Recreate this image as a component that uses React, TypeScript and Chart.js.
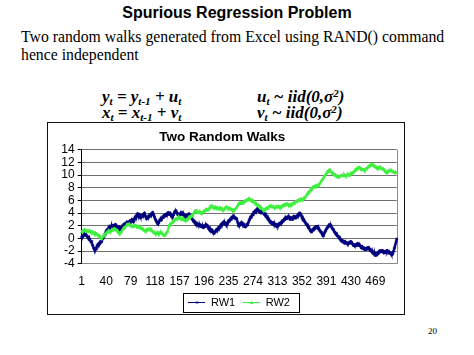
import React, { useEffect, useRef } from "react";
import { Chart, registerables } from "chart.js";

Chart.register(...registerables);

const SANS = '"Liberation Sans", Arial, Helvetica, sans-serif';
const SERIF = '"Liberation Serif", "Times New Roman", Times, serif';

const pointCount = 503;
const categories: string[] = Array.from({ length: pointCount }, (_, i) => String(i + 1));
const xTickLabels = ["1", "40", "79", "118", "157", "196", "235", "274", "313", "352", "391", "430", "469"];
const yTickMin = -4;
const yTickMax = 14;
const yTickStep = 2;

const seriesNames = ["RW1", "RW2"];
const seriesColors = ["#000080", "#40f040"];

const rw1 = [
  0.2, 0.4, 0.3, 0.6, 0.5, 0.7, 0.5, 0.6, 0.4, 0.3,
  0.1, 0.2, -0.2, -0.1, -0.4, -0.6, -0.5, -1.0, -1.2, -1.5,
  -1.7, -1.9, -1.6, -1.7, -1.3, -1.1, -0.9, -1.0, -0.7, -0.8,
  -0.5, -0.6, -0.4, -0.1, 0.0, 0.3, 0.4, 0.7, 0.9, 1.2,
  1.1, 1.4, 1.5, 1.7, 1.5, 1.8, 1.6, 1.9, 2.1, 1.8,
  2.0, 1.8, 2.1, 1.9, 2.2, 2.0, 1.7, 1.9, 1.9, 1.6,
  1.8, 1.5, 1.7, 1.5, 1.8, 2.0, 1.9, 2.2, 2.3, 2.1,
  2.4, 2.2, 2.5, 2.3, 2.6, 2.4, 2.6, 2.8, 2.5, 2.7,
  2.9, 2.7, 3.0, 2.8, 3.1, 3.4, 3.3, 3.6, 3.5, 3.9,
  3.7, 3.5, 3.8, 3.6, 3.3, 3.4, 3.6, 3.5, 3.8, 3.7,
  4.0, 3.7, 3.4, 3.1, 3.3, 3.2, 3.5, 3.4, 3.7, 3.5,
  3.8, 3.9, 3.8, 4.1, 3.9, 3.6, 3.4, 3.1, 2.9, 2.7,
  2.5, 2.3, 2.6, 2.5, 2.8, 3.0, 3.1, 2.9, 3.2, 3.4,
  3.3, 3.6, 3.7, 3.5, 3.8, 3.7, 3.9, 3.8, 4.1, 4.0,
  3.8, 4.0, 3.7, 3.5, 3.6, 3.4, 3.7, 3.9, 4.2, 4.1,
  4.4, 4.2, 4.0, 3.8, 3.9, 3.6, 3.8, 3.7, 4.0, 3.8,
  4.1, 3.9, 3.7, 3.8, 3.5, 3.6, 3.4, 3.6, 3.7, 3.5,
  3.8, 3.9, 3.7, 3.5, 3.4, 3.2, 3.1, 2.9, 2.7, 2.8,
  2.5, 2.6, 2.3, 2.2, 2.4, 2.1, 2.2, 2.0, 2.2, 1.9,
  2.1, 2.0, 1.8, 2.0, 1.7, 1.8, 2.0, 1.9, 2.2, 2.0,
  2.1, 1.8, 1.6, 1.7, 1.4, 1.2, 1.4, 1.1, 1.3, 1.0,
  0.9, 0.8, 1.0, 1.1, 1.3, 1.2, 1.5, 1.4, 1.7, 1.8,
  1.7, 2.0, 2.2, 2.1, 2.4, 2.3, 2.6, 2.4, 2.5, 2.2,
  2.4, 2.1, 2.3, 2.5, 2.8, 2.7, 2.9, 3.1, 3.0, 3.3,
  3.2, 3.5, 3.6, 3.4, 3.3, 3.1, 3.2, 3.1, 2.7, 2.4,
  2.0, 2.2, 2.1, 2.4, 2.2, 2.5, 2.3, 2.1, 2.3, 2.0,
  1.9, 1.8, 2.0, 2.2, 2.1, 2.4, 2.6, 2.9, 3.1, 3.4,
  3.3, 3.6, 3.8, 3.7, 4.1, 4.0, 4.3, 4.2, 4.5, 4.4,
  4.7, 4.5, 4.3, 4.4, 4.2, 4.1, 4.3, 4.2, 4.4, 4.1,
  3.9, 4.0, 3.8, 3.6, 3.4, 3.5, 3.2, 3.0, 3.1, 2.8,
  2.6, 2.7, 2.5, 2.4, 2.3, 2.5, 2.2, 2.1, 2.3, 2.0,
  2.2, 1.9, 2.0, 2.2, 2.1, 2.4, 2.3, 2.4, 2.6, 2.5,
  2.8, 2.7, 2.9, 3.1, 3.0, 3.3, 3.1, 3.2, 3.4, 3.2,
  3.5, 3.3, 3.0, 3.1, 3.3, 3.2, 3.0, 3.2, 3.5, 3.4,
  3.2, 3.3, 3.5, 3.4, 3.6, 3.8, 3.7, 4.0, 4.0, 3.8,
  3.6, 3.3, 3.1, 2.9, 3.0, 2.7, 2.6, 2.4, 2.3, 2.1,
  2.0, 1.7, 1.8, 1.5, 1.3, 1.2, 1.0, 1.2, 1.4, 1.3,
  1.6, 1.6, 1.8, 1.7, 1.9, 1.9, 1.7, 1.5, 1.6, 1.3,
  1.2, 1.0, 1.0, 0.7, 0.5, 0.4, 0.7, 0.9, 1.1, 1.3,
  1.5, 1.6, 1.8, 1.9, 2.1, 2.2, 2.0, 2.1, 1.8, 1.7,
  1.5, 1.4, 1.2, 1.0, 0.9, 0.7, 0.8, 0.5, 0.4, 0.3,
  0.1, 0.2, -0.1, -0.3, -0.4, -0.3, -0.5, -0.4, -0.6, -0.5,
  -0.7, -0.6, -0.8, -0.7, -0.9, -0.7, -0.8, -0.6, -0.7, -0.5,
  -0.6, -0.8, -0.9, -1.1, -1.0, -1.2, -1.2, -1.0, -0.9, -1.1,
  -0.8, -0.9, -1.1, -1.0, -1.2, -1.4, -1.3, -1.5, -1.4, -1.6,
  -1.7, -1.6, -1.8, -1.6, -1.5, -1.7, -1.5, -1.4, -1.6, -1.8,
  -1.7, -1.9, -2.0, -2.2, -2.1, -2.4, -2.5, -2.3, -2.7, -2.5,
  -2.6, -2.3, -2.4, -2.2, -2.0, -2.1, -1.9, -2.1, -2.0, -1.9,
  -2.1, -2.0, -2.3, -2.1, -2.2, -2.0, -2.2, -1.9, -2.1, -2.1,
  -2.3, -2.2, -2.4, -2.3, -2.6, -2.5, -2.3, -2.0, -1.6, -1.3,
  -0.9, -0.5, -0.1,
];

const rw2 = [
  1.0, 1.2, 1.1, 1.3, 1.2, 1.4, 1.3, 1.1, 1.2, 1.0,
  1.2, 1.1, 1.3, 1.2, 1.0, 1.1, 0.9, 1.1, 1.0, 0.8,
  0.9, 0.7, 0.9, 0.8, 0.7, 0.5, 0.6, 0.4, 0.5, 0.3,
  0.2, 0.1, 0.0, 0.2, 0.3, 0.5, 0.4, 0.7, 0.8, 0.9,
  1.0, 0.9, 1.1, 1.3, 1.2, 1.0, 1.1, 1.2, 1.4, 1.3,
  1.5, 1.4, 1.6, 1.5, 1.3, 1.4, 1.2, 1.3, 1.1, 0.9,
  0.8, 0.7, 0.9, 1.0, 1.2, 1.4, 1.5, 1.7, 1.6, 1.8,
  1.9, 2.0, 2.2, 2.1, 2.3, 2.2, 2.3, 2.1, 2.0, 1.9,
  2.0, 1.8, 1.8, 2.0, 1.9, 2.1, 2.0, 2.0, 1.8, 1.9,
  1.7, 1.9, 1.8, 1.6, 1.7, 1.5, 1.6, 1.5, 1.3, 1.4,
  1.2, 1.3, 1.1, 1.2, 1.4, 1.3, 1.5, 1.4, 1.5, 1.3,
  1.4, 1.2, 1.3, 1.1, 1.0, 0.9, 1.0, 0.8, 0.7, 0.9,
  0.8, 1.0, 0.9, 0.7, 0.9, 0.8, 1.0, 0.8, 0.9, 0.7,
  0.6, 0.5, 0.4, 0.6, 0.7, 0.9, 1.0, 1.2, 1.6, 2.0,
  2.1, 2.3, 2.2, 2.4, 2.5, 2.6, 2.8, 2.7, 2.9, 3.0,
  3.1, 3.0, 3.2, 3.1, 3.3, 3.4, 3.2, 3.3, 3.1, 3.2,
  3.0, 3.1, 2.9, 3.0, 2.8, 2.9, 2.8, 3.0, 3.1, 3.0,
  3.2, 3.4, 3.3, 3.5, 3.4, 3.6, 3.5, 3.7, 3.9, 4.1,
  4.3, 4.2, 4.4, 4.3, 4.1, 4.2, 4.0, 4.1, 4.3, 4.2,
  4.0, 4.1, 3.9, 4.1, 4.2, 4.4, 4.3, 4.4, 4.6, 4.5,
  4.4, 4.6, 4.5, 4.7, 4.9, 5.1, 5.0, 5.2, 5.1, 4.9,
  5.0, 4.9, 4.8, 5.0, 4.8, 4.9, 4.7, 4.8, 4.6, 4.8,
  4.7, 4.9, 4.8, 4.6, 4.7, 4.5, 4.4, 4.6, 4.7, 4.9,
  4.8, 5.0, 4.9, 4.7, 4.8, 4.6, 4.8, 4.7, 4.5, 4.6,
  4.5, 4.3, 4.4, 4.6, 4.5, 4.7, 4.8, 4.9, 5.1, 5.3,
  5.5, 5.4, 5.6, 5.5, 5.7, 5.6, 5.5, 5.7, 5.7, 5.9,
  5.8, 6.0, 5.9, 6.1, 6.0, 6.2, 6.3, 6.1, 6.2, 6.0,
  6.1, 5.9, 6.0, 5.8, 5.9, 5.7, 5.6, 5.5, 5.3, 5.4,
  5.2, 5.3, 5.1, 5.2, 5.0, 4.9, 4.7, 4.8, 4.6, 4.5,
  4.4, 4.6, 4.5, 4.7, 4.6, 4.8, 4.7, 4.9, 5.0, 5.1,
  5.0, 5.2, 5.1, 5.0, 4.9, 5.1, 5.0, 4.9, 4.8, 5.0,
  4.9, 5.1, 5.0, 4.9, 5.1, 5.0, 4.8, 4.9, 5.1, 5.0,
  5.2, 5.1, 5.3, 5.2, 5.4, 5.3, 5.5, 5.4, 5.5, 5.3,
  5.2, 5.4, 5.3, 5.2, 5.4, 5.3, 5.5, 5.4, 5.6, 5.5,
  5.7, 5.8, 5.7, 5.9, 6.0, 5.9, 6.1, 6.0, 6.2, 6.1,
  6.3, 6.1, 6.0, 6.2, 6.4, 6.3, 6.5, 6.6, 6.8, 7.0,
  7.1, 7.3, 7.2, 7.4, 7.6, 7.7, 7.9, 7.8, 8.1, 8.0,
  8.2, 8.1, 8.3, 8.2, 8.4, 8.4, 8.3, 8.5, 8.4, 8.6,
  8.8, 8.9, 9.1, 9.2, 9.4, 9.5, 9.7, 9.8, 10.0, 10.1,
  10.3, 10.4, 10.6, 10.5, 10.7, 10.9, 10.8, 10.6, 10.5, 10.4,
  10.2, 10.3, 10.1, 10.0, 10.1, 9.9, 9.9, 9.7, 9.8, 9.6,
  9.7, 9.8, 9.8, 9.9, 10.0, 9.8, 9.9, 10.0, 10.1, 9.9,
  10.0, 9.8, 9.9, 10.0, 10.2, 10.1, 9.9, 10.0, 10.1, 10.3,
  10.2, 10.4, 10.3, 10.4, 10.6, 10.7, 10.9, 10.8, 11.0, 11.1,
  11.0, 11.2, 11.1, 11.2, 11.1, 10.9, 11.0, 10.8, 10.9, 10.8,
  10.9, 10.7, 10.9, 11.0, 10.9, 11.1, 11.2, 11.4, 11.3, 11.5,
  11.5, 11.7, 11.6, 11.5, 11.7, 11.6, 11.4, 11.3, 11.4, 11.2,
  11.3, 11.1, 11.0, 11.2, 11.1, 11.3, 11.2, 11.0, 11.1, 10.9,
  11.0, 11.0, 10.8, 10.6, 10.7, 10.5, 10.4, 10.6, 10.5, 10.7,
  10.6, 10.8, 10.7, 10.6, 10.7, 10.5, 10.6, 10.5, 10.3, 10.4,
  10.5, 10.3, 10.4,
];

const seriesData = [rw1, rw2];
const pointStyles = ["rect", "triangle"];

function makeLegendMarker(color: string, kind: string): HTMLCanvasElement {
  const c = document.createElement("canvas");
  c.width = 17;
  c.height = 5;
  const g = c.getContext("2d")!;
  g.strokeStyle = color;
  g.fillStyle = color;
  g.lineWidth = 1;
  g.beginPath();
  g.moveTo(0, 2.5);
  g.lineTo(17, 2.5);
  g.stroke();
  if (kind === "triangle") {
    g.beginPath();
    g.moveTo(8.5, 1);
    g.lineTo(10.5, 4);
    g.lineTo(6.5, 4);
    g.closePath();
    g.fill();
  } else {
    g.fillRect(7.5, 1.5, 2, 2);
  }
  return c;
}

const framePlugin = {
  id: "frameAndLegendBox",
  beforeDatasetsDraw(chart: any) {
    const { ctx, chartArea: a } = chart;
    ctx.save();
    ctx.strokeStyle = "#8a8a8a";
    ctx.lineWidth = 1;
    ctx.beginPath();
    const x = Math.round(a.right) + 0.5;
    ctx.moveTo(x, a.top);
    ctx.lineTo(x, a.bottom);
    ctx.stroke();
    ctx.restore();
  },
  afterDraw(chart: any) {
    const boxes = chart.legend && chart.legend.legendHitBoxes;
    if (!boxes || !boxes.length) return;
    let l = Infinity, r = -Infinity, t = Infinity, b = -Infinity;
    boxes.forEach((h: any) => {
      l = Math.min(l, h.left);
      r = Math.max(r, h.left + h.width);
      t = Math.min(t, h.top);
      b = Math.max(b, h.top + h.height);
    });
    const { ctx } = chart;
    ctx.save();
    ctx.strokeStyle = "#000";
    ctx.lineWidth = 1;
    const x0 = Math.round(l - 5) + 0.5;
    const y0 = Math.round(t - 4) + 0.5;
    const x1 = Math.round(r + 9) + 0.5;
    const y1 = Math.round(b + 4) + 0.5;
    ctx.strokeRect(x0, y0, x1 - x0, y1 - y0);
    ctx.restore();
  },
};

function RandomWalkChart() {
  const ref = useRef<HTMLCanvasElement | null>(null);
  useEffect(() => {
    if (!ref.current) return;
    const markers = seriesColors.map((c, i) => makeLegendMarker(c, pointStyles[i]));
    const datasets = seriesNames.map((name, i) => ({
      label: name,
      data: seriesData[i],
      borderColor: seriesColors[i],
      backgroundColor: seriesColors[i],
      pointBackgroundColor: seriesColors[i],
      pointBorderColor: seriesColors[i],
      borderWidth: 1.6,
      pointRadius: 1.4,
      pointBorderWidth: 0.6,
      pointStyle: pointStyles[i],
      tension: 0,
      order: seriesNames.length - i,
    }));
    const chart = new Chart(ref.current, {
      type: "line",
      data: { labels: categories, datasets },
      plugins: [framePlugin],
      options: {
        responsive: false,
        maintainAspectRatio: false,
        animation: false,
        events: [],
        layout: { padding: { left: 0, right: 7.3, top: 0, bottom: 0 } },
        font: { family: SANS },
        scales: {
          x: {
            type: "category",
            offset: false,
            grid: { display: false, drawTicks: false },
            border: { display: true, color: "#8a8a8a", width: 1 },
            ticks: {
              autoSkip: false,
              maxRotation: 0,
              minRotation: 0,
              padding: 11,
              color: "#000",
              font: { family: SANS, size: 12 },
            },
            afterBuildTicks(scale: any) {
              scale.ticks = scale.ticks.filter((t: any) => xTickLabels.includes(categories[t.value]));
            },
            afterFit(scale: any) {
              scale.height = 25.2;
            },
          },
          y: {
            min: yTickMin,
            max: yTickMax,
            ticks: {
              stepSize: yTickStep,
              autoSkip: false,
              color: "#000",
              padding: 3,
              font: { family: SANS, size: 12 },
            },
            grid: { color: "#707070", lineWidth: 1, tickColor: "#000", tickLength: 4 },
            border: { display: true, color: "#000", width: 1 },
            afterFit(scale: any) {
              scale.width = 33.7;
            },
          },
        },
        plugins: {
          title: {
            display: true,
            text: "Two Random Walks",
            color: "#000",
            font: { family: SANS, size: 13.5, weight: "bold" },
            padding: { top: 6.4, bottom: 4.1 },
          },
          legend: {
            display: true,
            position: "bottom",
            fullSize: false,
            labels: {
              color: "#000",
              font: { family: SANS, size: 11 },
              usePointStyle: true,
              pointStyleWidth: 17,
              padding: 8,
              sort: (a: any, b: any) => a.datasetIndex - b.datasetIndex,
              generateLabels(ch: any) {
                const items = (Chart.defaults.plugins.legend.labels as any).generateLabels(ch);
                items.forEach((it: any) => {
                  it.pointStyle = markers[it.datasetIndex];
                  it.lineWidth = 0;
                });
                return items;
              },
            },
          },
          tooltip: { enabled: false },
        },
      } as any,
    });
    return () => chart.destroy();
  }, []);
  return (
    <canvas
      ref={ref}
      width={356}
      height={195}
      style={{ position: "absolute", left: 48, top: 123, width: 356, height: 195 }}
    />
  );
}

const subStyle: React.CSSProperties = { fontSize: "0.65em", position: "relative", top: "0.28em" };
const supStyle: React.CSSProperties = { fontSize: "0.65em", position: "relative", top: "-0.45em" };

export default function App() {
  const eqBase: React.CSSProperties = {
    position: "absolute",
    fontFamily: SERIF,
    fontWeight: "bold",
    fontStyle: "italic",
    fontSize: 17,
    lineHeight: "17px",
    whiteSpace: "nowrap",
    color: "#000",
  };
  return (
    <div style={{ position: "absolute", left: 0, top: 0, width: 474, height: 355, background: "#fff", overflow: "hidden" }}>
      <div
        style={{
          position: "absolute", left: 0, top: 4.8, width: 474, textAlign: "center",
          fontFamily: SANS, fontWeight: "bold", fontSize: 16, lineHeight: "16px", color: "#000", whiteSpace: "nowrap",
        }}
      >
        Spurious Regression Problem
      </div>
      <div style={{ position: "absolute", left: 21, top: 28.8, fontFamily: SERIF, fontSize: 15.75, lineHeight: "15.75px", whiteSpace: "nowrap", color: "#000" }}>
        Two random walks generated from Excel using RAND() command
      </div>
      <div style={{ position: "absolute", left: 21, top: 47.3, fontFamily: SERIF, fontSize: 15.75, lineHeight: "15.75px", whiteSpace: "nowrap", color: "#000" }}>
        hence independent
      </div>
      <div style={{ ...eqBase, left: 102, top: 87.5 }}>
        y<span style={subStyle}>t</span> = y<span style={subStyle}>t-1</span> + u<span style={subStyle}>t</span>
      </div>
      <div style={{ ...eqBase, left: 102, top: 103.5 }}>
        x<span style={subStyle}>t</span> = x<span style={subStyle}>t-1</span> + v<span style={subStyle}>t</span>
      </div>
      <div style={{ ...eqBase, left: 257, top: 87.5 }}>
        u<span style={subStyle}>t</span> ~ iid(0,σ<span style={supStyle}>2</span>)
      </div>
      <div style={{ ...eqBase, left: 257, top: 103.5 }}>
        v<span style={subStyle}>t</span> ~ iid(0,σ<span style={supStyle}>2</span>)
      </div>
      <div
        style={{
          position: "absolute", left: 47, top: 122, width: 358, height: 193,
          boxSizing: "border-box", border: "1px solid #111", background: "#fff",
        }}
      />
      <RandomWalkChart />
      <div style={{ position: "absolute", left: 428, top: 326.5, fontFamily: SERIF, fontSize: 9, lineHeight: "9px", color: "#000" }}>
        20
      </div>
    </div>
  );
}
